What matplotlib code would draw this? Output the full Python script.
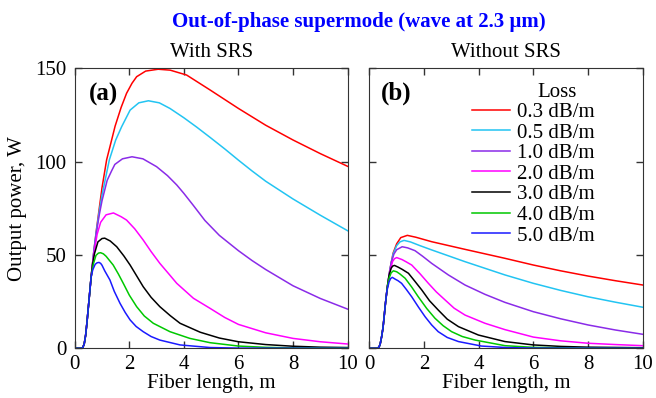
import matplotlib
matplotlib.use("Agg")
import matplotlib.pyplot as plt

plt.rcParams['font.family'] = ['Liberation Serif', 'DejaVu Serif']

# loss values and colours
loss_labels = ["0.3 dB/m", "0.5 dB/m", "1.0 dB/m", "2.0 dB/m", "3.0 dB/m", "4.0 dB/m", "5.0 dB/m"]
loss_colors = ["#ff0000", "#22c4f2", "#8a2be8", "#ff00ff", "#000000", "#00c800", "#1a1aff"]

# (a) with SRS -- common rising part
env_a_x = [0, 0.25, 0.3, 0.35, 0.4, 0.45, 0.5, 0.55, 0.6]
env_a_p = [0, 0, 0.5, 2.5, 7, 14, 22, 30, 38]

a03_x = [0.7, 0.8, 0.9, 1.0, 1.17, 1.3, 1.48, 1.7, 1.9, 2.1, 2.27, 2.6, 3.06, 3.5, 4.1, 4.96, 6.0, 7.0, 8.0, 9.0, 10.0]
a03_p = [52, 64, 75, 86, 101, 108.5, 119, 129, 136.6, 142, 145.5, 148.5, 149.5, 149, 146.4, 138.4, 128.5, 119.5, 111.6, 104.3, 97.5]
a05_x = [0.7, 0.8, 0.9, 1.0, 1.27, 1.5, 1.72, 2.03, 2.35, 2.7, 3.1, 3.49, 4.0, 4.47, 4.96, 5.5, 6.0, 6.5, 7.0, 8.0, 9.0, 10.0]
a05_p = [52, 63.5, 73.5, 82, 101, 111.5, 118.7, 127.6, 131.5, 132.6, 131.5, 128.5, 123.5, 118.5, 113, 106.8, 100.8, 95, 89.5, 80, 71.3, 63]
a10_x = [0.7, 0.8, 0.9, 1.0, 1.19, 1.35, 1.47, 1.75, 2.1, 2.5, 3.0, 3.4, 3.74, 4.0, 4.35, 4.77, 5.3, 6.0, 6.5, 7.0, 8.0, 9.0, 10.0]
a10_p = [51.5, 62.5, 71.5, 79, 90, 95, 98.5, 101.5, 102.6, 101.5, 97.3, 92.5, 87.5, 83, 76.5, 68.5, 60.5, 52.3, 47, 42.2, 33.5, 26.7, 21]
a20_x = [0.66, 0.72, 0.82, 0.95, 1.15, 1.42, 1.7, 1.9, 2.2, 2.51, 2.8, 3.12, 3.44, 3.74, 4.35, 4.96, 5.5, 6.0, 7.0, 8.0, 9.0, 10.0]
a20_p = [46, 52, 61, 67.5, 71.5, 72.5, 70.5, 68.7, 64, 58, 51.8, 45.5, 40, 34.8, 26.8, 21.4, 16.5, 12.8, 8.3, 5.3, 3.5, 2.3]
a30_x = [0.65, 0.72, 0.85, 1.0, 1.1, 1.3, 1.54, 1.8, 2.03, 2.51, 2.8, 3.12, 3.5, 3.86, 4.6, 5.3, 6.0, 7.0, 8.0, 9.0, 10.0]
a30_p = [44.5, 50.5, 57, 58.8, 59, 57.5, 54.4, 49.5, 44.6, 33, 27.3, 22.3, 17.5, 13.4, 8.6, 5.5, 3.5, 2.0, 1.1, 0.6, 0.4]
a40_x = [0.68, 0.78, 0.87, 0.95, 1.05, 1.15, 1.41, 1.6, 1.78, 2.0, 2.27, 2.55, 2.88, 3.49, 4.22, 4.96, 6.0, 7.0, 8.0, 10.0]
a40_p = [45, 49.8, 51, 51.2, 50.6, 49.3, 44.6, 39.8, 34.8, 28.5, 22.3, 17.3, 13.4, 8.9, 5.3, 3.0, 1.2, 0.5, 0.2, 0.1]
a50_x = [0.66, 0.75, 0.82, 0.89, 0.95, 1.0, 1.1, 1.29, 1.45, 1.66, 1.85, 2.03, 2.25, 2.51, 2.8, 3.12, 3.86, 4.96, 6.0, 10.0]
a50_p = [42, 45, 45.8, 46, 45.5, 44.5, 41.5, 36.6, 30.5, 24.1, 19.2, 15.2, 11.7, 8.9, 6.3, 4.4, 1.8, 0.4, 0.1, 0]

# (b) without SRS
env_b_x = [0, 0.3, 0.36, 0.4, 0.45, 0.5, 0.53, 0.59]
env_b_p = [0, 0, 0.8, 2.5, 6.2, 11, 15.2, 24.1]

b03_x = [0.66, 0.75, 0.87, 1.0, 1.15, 1.39, 1.7, 2.28, 3.5, 4.96, 6.0, 7.0, 8.0, 9.0, 10.0]
b03_p = [33, 42, 51, 56, 59.3, 60.5, 59.5, 57.1, 53, 48.2, 44.6, 41.5, 38.7, 36.2, 33.9]
b05_x = [0.66, 0.75, 0.87, 1.0, 1.12, 1.27, 1.5, 1.85, 2.28, 3.5, 4.96, 6.0, 7.0, 8.0, 9.0, 10.0]
b05_p = [33, 42, 50.5, 55, 57, 57.8, 57, 55, 52.7, 46.4, 39.3, 34.8, 31, 27.6, 24.7, 22]
b10_x = [0.66, 0.75, 0.8, 0.9, 1.0, 1.2, 1.4, 1.67, 1.95, 2.28, 2.89, 3.5, 4.23, 4.96, 6.0, 7.0, 8.0, 9.0, 10.0]
b10_p = [33, 41.5, 46, 50.5, 52.8, 54.4, 53.8, 52.3, 49.3, 45.5, 39.3, 33.9, 28.9, 24.6, 19.6, 15.8, 12.5, 9.8, 7.5]
b20_x = [0.66, 0.75, 0.85, 0.92, 1.0, 1.2, 1.35, 1.55, 1.85, 2.16, 2.45, 2.77, 3.1, 3.5, 4.23, 4.96, 6.0, 7.0, 8.0, 9.0, 10.0]
b20_p = [33, 41, 46.5, 48, 48.6, 47.5, 46.3, 44.6, 40, 34.8, 30.2, 25.9, 21.5, 17.8, 13.4, 10.0, 6.0, 4.0, 2.7, 2.0, 1.4]
b30_x = [0.66, 0.72, 0.8, 0.86, 0.92, 1.05, 1.2, 1.43, 1.65, 1.92, 2.2, 2.52, 2.85, 3.26, 3.99, 4.96, 6.0, 7.0, 8.0, 10.0]
b30_p = [33, 39, 43, 44.1, 44.4, 43.5, 42.3, 40.2, 36.2, 31.2, 25.5, 20.5, 15.6, 11.6, 7.1, 3.6, 1.8, 1.0, 0.6, 0.3]
b40_x = [0.66, 0.72, 0.8, 0.88, 1.0, 1.12, 1.31, 1.55, 1.79, 2.1, 2.4, 2.7, 3.01, 3.4, 3.87, 4.96, 6.0, 8.0, 10.0]
b40_p = [33, 37.5, 40.5, 41.5, 41, 39.8, 37.5, 32.8, 27.6, 21.3, 16.1, 12.1, 8.9, 6.3, 4.4, 1.4, 0.5, 0.1, 0]
b50_x = [0.64, 0.72, 0.78, 0.84, 0.95, 1.05, 1.18, 1.35, 1.55, 1.8, 2.04, 2.28, 2.52, 2.85, 3.26, 4.1, 5.0, 6.0, 10.0]
b50_p = [30.5, 35.5, 37.4, 38, 37, 36.2, 34.8, 31.6, 27.6, 22, 16.9, 12.5, 8.9, 5.8, 3.6, 1.2, 0.4, 0.1, 0]

curves_a = [(a03_x, a03_p), (a05_x, a05_p), (a10_x, a10_p), (a20_x, a20_p),
            (a30_x, a30_p), (a40_x, a40_p), (a50_x, a50_p)]
curves_b = [(b03_x, b03_p), (b05_x, b05_p), (b10_x, b10_p), (b20_x, b20_p),
            (b30_x, b30_p), (b40_x, b40_p), (b50_x, b50_p)]

fig = plt.figure(figsize=(6.56, 3.98), dpi=100)
ax_a = fig.add_axes([0.1139, 0.1249, 0.4159, 0.7035])
ax_b = fig.add_axes([0.563, 0.1249, 0.4168, 0.7035])

for ax, curves, ex, ep in [(ax_a, curves_a, env_a_x, env_a_p), (ax_b, curves_b, env_b_x, env_b_p)]:
    for (cx, cp), col, lab in zip(curves, loss_colors, loss_labels):
        ax.plot(ex + cx, ep + cp, color=col, lw=1.1, label=lab)
    ax.set_xlim(0, 10)
    ax.set_ylim(0, 150)
    ax.set_xticks([0, 2, 4, 6, 8, 10])
    ax.set_yticks([0, 50, 100, 150])
    ax.tick_params(direction='in', top=True, right=True, length=5, width=1,
                   labelsize=15, color='#333333')
    ax.tick_params(axis='x', pad=5)
    ax.tick_params(axis='y', pad=6)
    for s in ax.spines.values():
        s.set_color('#333333')
    ax.set_xlabel("Fiber length, m", fontsize=15, labelpad=0)

ax_b.set_yticklabels([])
ax_a.set_ylabel("Output power, W", fontsize=15, labelpad=6)

ax_a.set_title("With SRS", fontsize=15, pad=8)
ax_b.set_title("Without SRS", fontsize=15, pad=8)

ax_a.text(0.104, 0.908, "(a)", transform=ax_a.transAxes, fontsize=18,
          fontweight='bold', ha='center', va='center')
ax_b.text(0.098, 0.91, "(b)", transform=ax_b.transAxes, fontsize=18,
          fontweight='bold', ha='center', va='center')

ax_b.legend(loc='center left', bbox_to_anchor=(0.376, 0.6225), frameon=False,
            fontsize=15, handlelength=1.83, handletextpad=0.3, labelspacing=0.05,
            borderpad=0, borderaxespad=0)
ax_b.text(0.687, 0.912, "Loss", transform=ax_b.transAxes, fontsize=15,
          ha='center', va='center')

fig.text(0.547, 1 - 22 / 398, "Out-of-phase supermode (wave at 2.3 μm)",
         ha='center', va='center', fontsize=15, fontweight='bold', color='#0000ff')

fig.savefig("out.png", dpi=100)
